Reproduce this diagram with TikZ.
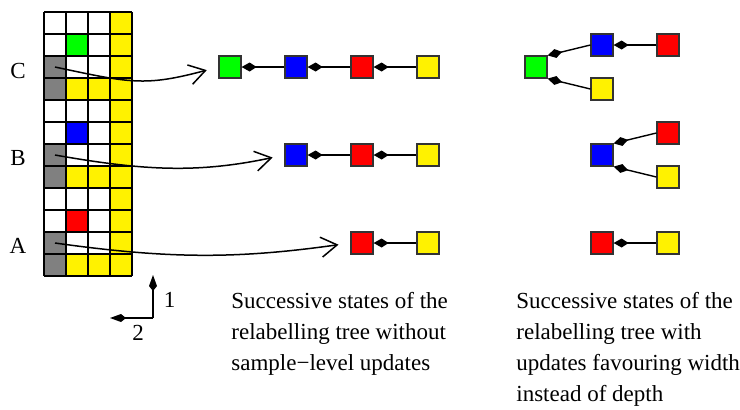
\documentclass[tikz,border=0pt]{standalone}
\usepackage{fontspec}
\setmainfont{Liberation Serif}
\usetikzlibrary{arrows.meta}
\tikzset{
  cell/.style={draw=black!80, line width=0.6pt, minimum size=11pt, inner sep=0pt},
  link/.style={-{Kite[length=7.5pt,width=4.5pt,inset=3.5pt]}, line width=0.7pt},
  jump/.style={-{Straight Barb[length=8pt,width=10pt]}, line width=0.75pt, shorten >=6pt},
  axis/.style={-{Kite[length=8pt,width=4pt,inset=2.5pt]}, line width=0.7pt},
  txt/.style={font=\fontsize{11.5}{15.5}\selectfont, inner sep=0pt},
}
\begin{document}
\begin{tikzpicture}[x=0.5pt,y=-0.5pt]
  \useasboundingbox (0,0) rectangle (740,409);
  % sample grid
  \fill[yellow] (110,12) rectangle (132,276);
  \foreach \g/\c in {0/green,1/blue,2/red} {
    \fill[\c] (66,12+88*\g+22) rectangle ++(22,22);
    \fill[gray] (44,12+88*\g+44) rectangle ++(22,44);
    \fill[yellow] (66,12+88*\g+66) rectangle ++(44,22);
  }
  \foreach \i in {0,...,4} \draw[line width=0.6pt] (44+22*\i,12) -- ++(0,264);
  \foreach \j in {0,...,12} \draw[line width=0.6pt] (44,12+22*\j) -- ++(88,0);
  \node[txt] (labC) at (18,70.5) {C};
  \node[txt] (labB) at (18,158) {B};
  \node[txt] (labA) at (18,246) {A};
  \coordinate (sC) at (55,67);
  \coordinate (sB) at (55,155);
  \coordinate (sA) at (55,243);

  % chains without sample-level updates
  \node[cell,fill=green]  (gC) at (230,67) {};
  \node[cell,fill=blue]   (bC) at (296,67) {};
  \node[cell,fill=red]    (rC) at (362,67) {};
  \node[cell,fill=yellow] (yC) at (428,67) {};
  \draw[link] (yC) -- (rC);
  \draw[link] (rC) -- (bC);
  \draw[link] (bC) -- (gC);
  \node[cell,fill=blue]   (bB) at (296,155) {};
  \node[cell,fill=red]    (rB) at (362,155) {};
  \node[cell,fill=yellow] (yB) at (428,155) {};
  \draw[link] (yB) -- (rB);
  \draw[link] (rB) -- (bB);
  \node[cell,fill=red]    (rA) at (362,243) {};
  \node[cell,fill=yellow] (yA) at (428,243) {};
  \draw[link] (yA) -- (rA);

  \draw[jump] (sC) to[out=-12,in=195,looseness=1.2] (gC.west);
  \draw[jump] (sB) to[out=-10,in=192] (bB.west);
  \draw[jump] (sA) to[out=-8,in=188] (rA.west);

  % trees favouring width
  \node[cell,fill=green]  (tgC) at (536,67) {};
  \node[cell,fill=blue]   (tbC) at (602,45) {};
  \node[cell,fill=red]    (trC) at (668,45) {};
  \node[cell,fill=yellow] (tyC) at (602,89) {};
  \draw[link] (trC) -- (tbC);
  \draw[link] (tbC.west) -- (tgC.north east);
  \draw[link] (tyC.west) -- (tgC.south east);
  \node[cell,fill=blue]   (tbB) at (602,155) {};
  \node[cell,fill=red]    (trB) at (668,133) {};
  \node[cell,fill=yellow] (tyB) at (668,177) {};
  \draw[link] (trB.west) -- (tbB.north east);
  \draw[link] (tyB.west) -- (tbB.south east);
  \node[cell,fill=red]    (trA) at (602,243) {};
  \node[cell,fill=yellow] (tyA) at (668,243) {};
  \draw[link] (tyA) -- (trA);

  % axes
  \coordinate (o) at (153,318);
  \coordinate (ax1) at (153,275);
  \coordinate (ax2) at (110,318);
  \draw[axis] (o) -- (ax1);
  \draw[axis] (o) -- (ax2);
  \node[txt] (n1) at (169.5,300) {1};
  \node[txt] (n2) at (138,332.5) {2};

  % captions
  \node[txt, anchor=north west, align=left] (capL) at (231,292)
    {Successive states of the\\relabelling tree without\\sample−level updates};
  \node[txt, anchor=north west, align=left] (capR) at (516,292)
    {Successive states of the\\relabelling tree with\\updates favouring width\\instead of depth};
\end{tikzpicture}
\end{document}
